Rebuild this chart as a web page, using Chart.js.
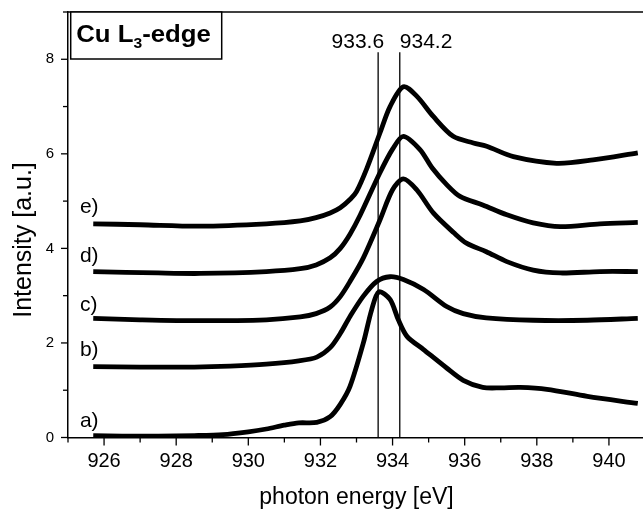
<!DOCTYPE html>
<html>
<head>
<meta charset="utf-8">
<script src="https://cdn.jsdelivr.net/npm/chart.js@4.4.0/dist/chart.umd.min.js"></script>
<style>
  html, body { margin: 0; padding: 0; background: #fff; overflow: hidden; }
  #wrap { position: relative; width: 660px; height: 510px; }
</style>
</head>
<body>
<div id="wrap"><canvas id="xas"></canvas></div>
<script>
// Cu L3-edge spectra (energy in eV, intensity in a.u.)
const energyA = [925.7, 926.5, 927.5, 928.5, 929.3, 930.0, 930.5, 931.0, 931.4, 931.9, 932.27, 932.55, 932.82, 933.19, 933.42, 933.62, 933.93, 934.16, 934.4, 934.86, 935.5, 935.96, 936.5, 937.0, 937.54, 938.28, 939.4, 940.8];
const intensityA = [0.04, 0.03, 0.03, 0.04, 0.06, 0.12, 0.18, 0.26, 0.31, 0.32, 0.44, 0.7, 1.08, 2.0, 2.7, 3.08, 2.92, 2.49, 2.14, 1.86, 1.47, 1.21, 1.06, 1.05, 1.06, 1.02, 0.87, 0.72];

const energyB = [925.7, 927.0, 928.5, 929.5, 930.5, 931.4, 931.9, 932.27, 932.55, 932.82, 933.19, 933.56, 933.93, 934.3, 934.86, 935.5, 935.96, 936.6, 937.9, 939.4, 940.8];
const intensityB = [1.5, 1.49, 1.49, 1.51, 1.55, 1.62, 1.7, 1.9, 2.2, 2.56, 2.99, 3.3, 3.4, 3.34, 3.13, 2.77, 2.62, 2.53, 2.48, 2.48, 2.52];

const energyC = [925.7, 927.0, 928.66, 930.5, 931.44, 931.88, 932.27, 932.55, 932.82, 933.19, 933.65, 934.0, 934.3, 934.67, 935.13, 935.7, 936.05, 936.6, 937.17, 937.9, 938.65, 939.75, 940.8];
const intensityC = [2.52, 2.49, 2.47, 2.49, 2.55, 2.62, 2.76, 2.98, 3.3, 3.8, 4.6, 5.24, 5.47, 5.24, 4.75, 4.33, 4.11, 3.93, 3.72, 3.54, 3.48, 3.51, 3.51];

const energyD = [925.7, 927.5, 928.66, 930.5, 931.44, 931.88, 932.27, 932.55, 932.82, 933.1, 933.65, 934.0, 934.3, 934.76, 935.1, 935.5, 935.87, 936.5, 937.17, 937.9, 938.65, 939.75, 940.8];
const intensityD = [3.51, 3.48, 3.47, 3.51, 3.57, 3.65, 3.8, 4.0, 4.3, 4.7, 5.6, 6.1, 6.37, 6.09, 5.7, 5.35, 5.1, 4.92, 4.71, 4.54, 4.46, 4.52, 4.55];

const energyE = [925.7, 927.0, 928.66, 930.5, 931.44, 931.88, 932.27, 932.55, 932.84, 933.0, 933.29, 933.65, 933.93, 934.3, 934.67, 935.13, 935.68, 936.24, 936.61, 937.35, 938.55, 939.56, 940.8];
const intensityE = [4.52, 4.5, 4.47, 4.52, 4.58, 4.65, 4.75, 4.86, 5.05, 5.2, 5.7, 6.44, 7.0, 7.42, 7.22, 6.79, 6.37, 6.23, 6.16, 5.94, 5.8, 5.87, 6.02];

const curveNames = ["a)", "b)", "c)", "d)", "e)"];
const curveNameLevels = [0.35, 1.85, 2.79, 3.83, 4.87];

// reference energies marked with thin vertical lines
const markerEnergies = [933.6, 934.2];
const markerNames = ["933.6", "934.2"];
const markerTop = 8.15;

function toPoints(xs, ys) {
    return xs.map((x, i) => ({ x: x, y: ys[i] }));
}

const curves = [
    toPoints(energyA, intensityA),
    toPoints(energyB, intensityB),
    toPoints(energyC, intensityC),
    toPoints(energyD, intensityD),
    toPoints(energyE, intensityE)
];

const datasets = curves.map((pts, i) => ({
    label: curveNames[i],
    data: pts,
    borderColor: "#000",
    borderWidth: 4.8,
    tension: 0.3,
    borderCapStyle: "butt",
    fill: false
}));

markerEnergies.forEach(e => {
    datasets.push({
        label: String(e),
        data: [{ x: e, y: 0 }, { x: e, y: markerTop }],
        borderColor: "#000",
        borderWidth: 1.3,
        fill: false
    });
});

// ------------------------------------------------------------
// extra drawing: frame, ticks, labels, title box
// ------------------------------------------------------------
const decor = {
    id: "decor",
    afterDraw(chart) {
        const ctx = chart.ctx;
        const area = chart.chartArea;
        const xs = chart.scales.x;
        const ys = chart.scales.y;

        ctx.save();
        ctx.strokeStyle = "#000";
        ctx.fillStyle = "#000";

        // top frame line
        ctx.lineWidth = 1.5;
        ctx.beginPath();
        ctx.moveTo(area.left, area.top);
        ctx.lineTo(area.right, area.top);
        ctx.stroke();

        // outward ticks, long on labelled values
        ctx.lineWidth = 1.3;
        xs.ticks.forEach(t => {
            const px = xs.getPixelForValue(t.value);
            const len = t.value % 2 === 0 ? 8 : 5;
            ctx.beginPath();
            ctx.moveTo(px, area.bottom);
            ctx.lineTo(px, area.bottom + len);
            ctx.stroke();
        });
        ys.ticks.forEach(t => {
            const py = ys.getPixelForValue(t.value);
            const len = t.value % 2 === 0 ? 7 : 5;
            ctx.beginPath();
            ctx.moveTo(area.left, py);
            ctx.lineTo(area.left - len, py);
            ctx.stroke();
        });

        // curve names
        ctx.font = "21px 'Liberation Sans', Arial, sans-serif";
        ctx.textAlign = "left";
        ctx.textBaseline = "middle";
        curveNames.forEach((name, i) => {
            ctx.fillText(name, xs.getPixelForValue(925.33), ys.getPixelForValue(curveNameLevels[i]));
        });

        // marker energies
        ctx.font = "21px 'Liberation Sans', Arial, sans-serif";
        ctx.textBaseline = "middle";
        const my = ys.getPixelForValue(8.37);
        ctx.textAlign = "right";
        ctx.fillText(markerNames[0], xs.getPixelForValue(markerEnergies[0]) + 6, my);
        ctx.textAlign = "left";
        ctx.fillText(markerNames[1], xs.getPixelForValue(markerEnergies[1]), my);

        // y axis title
        ctx.save();
        ctx.translate(24, 240);
        ctx.rotate(-Math.PI / 2);
        ctx.textAlign = "center";
        ctx.textBaseline = "middle";
        ctx.font = "25px 'Liberation Sans', Arial, sans-serif";
        ctx.fillText("Intensity [a.u.]", 0, 0);
        ctx.restore();

        // title box
        const bx = area.left + 2.7, by = area.top, bw = 151, bh = 47;
        ctx.fillStyle = "#fff";
        ctx.fillRect(bx, by, bw, bh);
        ctx.lineWidth = 1.5;
        ctx.strokeRect(bx, by, bw, bh);
        ctx.fillStyle = "#000";
        ctx.textAlign = "left";
        ctx.textBaseline = "alphabetic";
        ctx.save();
        ctx.translate(bx + 5.5, by + 30);
        ctx.scale(1.12, 1);
        ctx.font = "bold 23px 'Liberation Sans', Arial, sans-serif";
        let cx = 0;
        ctx.fillText("Cu L", cx, 0);
        cx += ctx.measureText("Cu L").width;
        ctx.font = "bold 14px 'Liberation Sans', Arial, sans-serif";
        ctx.fillText("3", cx, 5.5);
        cx += ctx.measureText("3").width;
        ctx.font = "bold 23px 'Liberation Sans', Arial, sans-serif";
        ctx.fillText("-edge", cx, 0);
        ctx.restore();

        ctx.restore();
    }
};

new Chart(document.getElementById("xas"), {
    type: "line",
    data: { datasets: datasets },
    options: {
        responsive: true,
        maintainAspectRatio: false,
        animation: false,
        layout: { padding: { top: 12, right: 15, left: 0, bottom: 0 } },
        elements: { point: { radius: 0 } },
        plugins: {
            legend: { display: false },
            tooltip: { enabled: false }
        },
        scales: {
            x: {
                type: "linear",
                min: 925,
                max: 941,
                ticks: {
                    stepSize: 1,
                    autoSkip: false,
                    maxRotation: 0,
                    padding: 12,
                    color: "#000",
                    font: { family: "'Liberation Sans', Arial, sans-serif", size: 20 },
                    callback: v => (v % 2 === 0 ? String(v) : "")
                },
                grid: { drawOnChartArea: false, drawTicks: false },
                border: { color: "#000", width: 1.5 },
                title: {
                    display: true,
                    text: "photon energy [eV]",
                    color: "#000",
                    font: { family: "'Liberation Sans', Arial, sans-serif", size: 23, lineHeight: 1 },
                    padding: { top: 0, bottom: 0.5 }
                },
                afterFit: s => { s.height = 72.5; s.paddingLeft = 0; s.paddingRight = 0; }
            },
            y: {
                min: 0,
                max: 9,
                ticks: {
                    stepSize: 1,
                    padding: 14,
                    color: "#000",
                    font: { family: "'Liberation Sans', Arial, sans-serif", size: 15 },
                    callback: v => (v % 2 === 0 && v < 9 ? String(v) : "")
                },
                grid: { drawOnChartArea: false, drawTicks: false },
                border: { color: "#000", width: 1.5 },
                afterFit: s => { s.width = 68; s.paddingTop = 0; s.paddingBottom = 0; }
            }
        }
    },
    plugins: [decor]
});
</script>
</body>
</html>
